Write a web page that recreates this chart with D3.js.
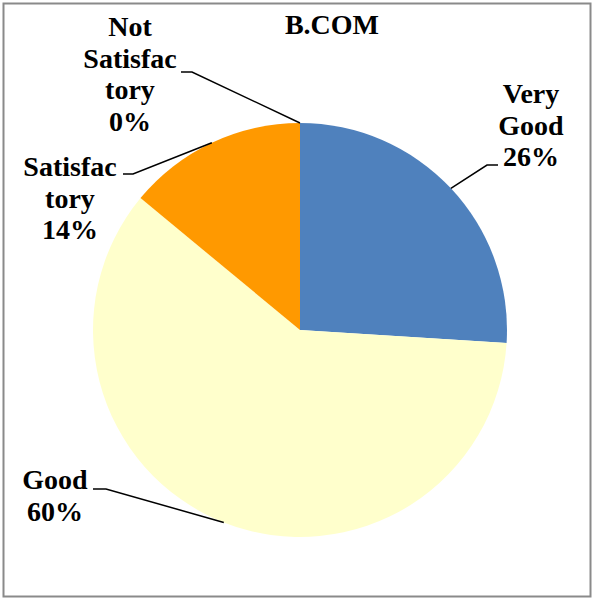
<!DOCTYPE html>
<html>
<head>
<meta charset="utf-8">
<script src="https://cdn.jsdelivr.net/npm/d3@7"></script>
<style>
  html, body { margin: 0; padding: 0; background: #fff; }
  svg { display: block; }
</style>
</head>
<body>
<svg id="chart" width="595" height="601"></svg>
<script>
// ---- data ----
const title = "B.COM";
const categories = ["Very Good", "Good", "Satisfactory", "Not Satisfactory"];
const values = [26, 60, 14, 0];
const labelLines = [["Very", "Good"], ["Good"], ["Satisfac", "tory"], ["Not", "Satisfac", "tory"]];
const colors = ["#4F81BD", "#FFFFCC", "#FF9900", "#C0504D"];

// ---- layout ----
const W = 595, H = 601;
const cx = 300, cy = 330, R = 207;
const fontSize = 28, lineH = 31.7;
const fontFamily = "Liberation Serif";
// label anchor (center x, first baseline y) and leader elbow (text-side x, y)
const labelPos = [
  { x: 531, y: 103, elbowX0: 498, elbowX1: 487, elbowY: 165 },
  { x: 55,  y: 489, elbowX0: 93,  elbowX1: 106, elbowY: 489 },
  { x: 70,  y: 176, elbowX0: 123, elbowX1: 133, elbowY: 174 },
  { x: 130, y: 36,  elbowX0: 181, elbowX1: 192, elbowY: 72 }
];

const svg = d3.select("#chart");

svg.append("rect")
  .attr("x", 3.5).attr("y", 3.5)
  .attr("width", W - 8).attr("height", H - 8)
  .attr("fill", "#fff")
  .attr("stroke", "#8a8a8a").attr("stroke-width", 2);

const pie = d3.pie().sort(null).value(d => d);
const arcs = pie(values);
const arc = d3.arc().innerRadius(0).outerRadius(R);

const g = svg.append("g").attr("transform", `translate(${cx},${cy})`);
g.selectAll("path").data(arcs).join("path")
  .attr("d", arc)
  .attr("fill", (d, i) => colors[i]);

// title
svg.append("text")
  .attr("x", 332).attr("y", 34)
  .attr("text-anchor", "middle")
  .attr("font-family", fontFamily)
  .attr("font-weight", "bold")
  .attr("font-size", fontSize)
  .attr("fill", "#000")
  .text(title);

// leader lines
arcs.forEach((d, i) => {
  const mid = (d.startAngle + d.endAngle) / 2;
  const px = cx + R * Math.sin(mid);
  const py = cy - R * Math.cos(mid);
  const p = labelPos[i];
  svg.append("polyline")
    .attr("points", `${p.elbowX0},${p.elbowY} ${p.elbowX1},${p.elbowY} ${px},${py}`)
    .attr("fill", "none")
    .attr("stroke", "#000")
    .attr("stroke-width", 1.5);
});

// labels
arcs.forEach((d, i) => {
  const p = labelPos[i];
  const lines = labelLines[i].concat([Math.round(d.data) + "%"]);
  const t = svg.append("text")
    .attr("text-anchor", "middle")
    .attr("font-family", fontFamily)
    .attr("font-weight", "bold")
    .attr("font-size", fontSize)
    .attr("fill", "#000");
  lines.forEach((ln, k) => {
    t.append("tspan").attr("x", p.x).attr("y", p.y + k * lineH).text(ln);
  });
});
</script>
</body>
</html>
